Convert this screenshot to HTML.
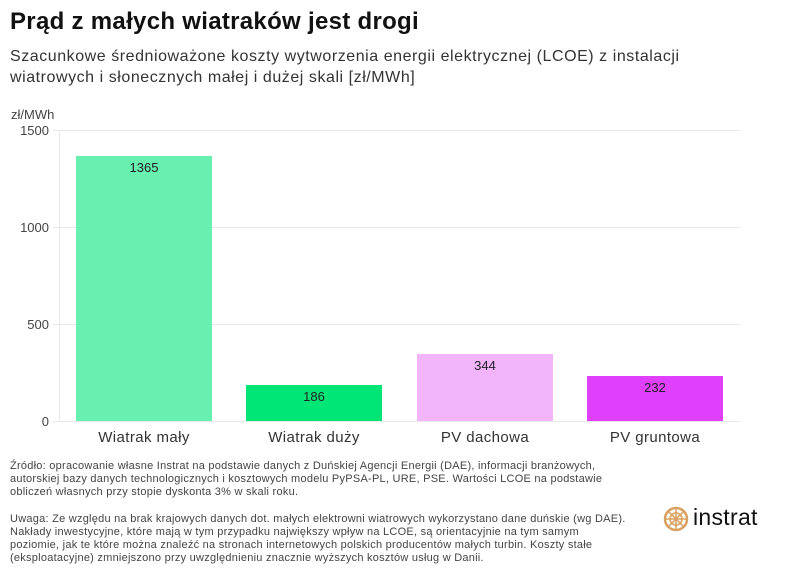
<!DOCTYPE html>
<html><head><meta charset="utf-8"><style>
body{margin:0;width:796px;height:575px;background:#fff;font-family:"Liberation Sans",sans-serif;color:#222;position:relative;overflow:hidden}
.t{position:absolute;white-space:nowrap}
</style></head><body>
<div class="t" style="left:10px;top:8px;font-size:24px;font-weight:bold;color:#111;letter-spacing:0.3px">Prąd z małych wiatraków jest drogi</div>
<div class="t" style="left:10px;top:46px;font-size:16px;line-height:21px;color:#333;letter-spacing:0.55px">Szacunkowe średnioważone koszty wytworzenia energii elektrycznej (LCOE) z instalacji<br>wiatrowych i słonecznych małej i dużej skali [zł/MWh]</div>
<svg width="796" height="460" style="position:absolute;left:0;top:0" font-family="Liberation Sans,sans-serif">
<text x="11" y="119" font-size="13" fill="#444">zł/MWh</text>
<g stroke="#e8e8e8" stroke-width="1">
<line x1="59" y1="130.5" x2="740" y2="130.5"/><line x1="59" y1="227.5" x2="740" y2="227.5"/><line x1="59" y1="324.5" x2="740" y2="324.5"/><line x1="59" y1="421.5" x2="740" y2="421.5"/>
<line x1="59.5" y1="130" x2="59.5" y2="421"/>
<line x1="53" y1="130.5" x2="59" y2="130.5"/><line x1="53" y1="227.5" x2="59" y2="227.5"/><line x1="53" y1="324.5" x2="59" y2="324.5"/><line x1="53" y1="421.5" x2="59" y2="421.5"/>
</g>
<g font-size="13" fill="#444" text-anchor="end">
<text x="49" y="135">1500</text><text x="49" y="232">1000</text><text x="49" y="329">500</text><text x="49" y="426">0</text>
</g>
<rect x="76" y="156" width="136" height="265" fill="#68f0b0"/>
<rect x="246" y="385" width="136" height="36" fill="#00e676"/>
<rect x="417" y="354" width="136" height="67" fill="#f2b4fa"/>
<rect x="587" y="376" width="136" height="45" fill="#e040fb"/>
<g font-size="13" fill="#222" text-anchor="middle">
<text x="144" y="172">1365</text><text x="314" y="401">186</text><text x="485" y="370">344</text><text x="655" y="392">232</text>
</g>
<g font-size="15" fill="#333" text-anchor="middle" letter-spacing="0.4">
<text x="144" y="442">Wiatrak mały</text><text x="314" y="442">Wiatrak duży</text><text x="485" y="442">PV dachowa</text><text x="655" y="442">PV gruntowa</text>
</g>
</svg>
<div class="t" style="left:10px;top:460px;font-size:11px;line-height:13px;color:#444;letter-spacing:0.25px">Źródło: opracowanie własne Instrat na podstawie danych z Duńskiej Agencji Energii (DAE), informacji branżowych,<br>autorskiej bazy danych technologicznych i kosztowych modelu PyPSA-PL, URE, PSE. Wartości LCOE na podstawie<br>obliczeń własnych przy stopie dyskonta 3% w skali roku.</div>
<div class="t" style="left:10px;top:513px;font-size:11px;line-height:13px;color:#444;letter-spacing:0.25px">Uwaga: Ze względu na brak krajowych danych dot. małych elektrowni wiatrowych wykorzystano dane duńskie (wg DAE).<br>Nakłady inwestycyjne, które mają w tym przypadku największy wpływ na LCOE, są orientacyjnie na tym samym<br>poziomie, jak te które można znaleźć na stronach internetowych polskich producentów małych turbin. Koszty stałe<br>(eksploatacyjne) zmniejszono przy uwzględnieniu znacznie wyższych kosztów usług w Danii.</div>
<svg width="26" height="26" style="position:absolute;left:663px;top:506px" viewBox="0 0 26 26">
<circle cx="13" cy="13" r="11" fill="none" stroke="#d9a060" stroke-width="2.5"/>
<circle cx="13" cy="13" r="6" fill="none" stroke="#e0b27a" stroke-width="2"/>
<g stroke="#d9a060" stroke-width="1.5"><line x1="13" y1="1" x2="13" y2="25"/><line x1="1" y1="13" x2="25" y2="13"/><line x1="4.5" y1="4.5" x2="21.5" y2="21.5"/><line x1="21.5" y1="4.5" x2="4.5" y2="21.5"/></g>
</svg>
<div class="t" style="left:693px;top:504px;font-size:23px;color:#111;letter-spacing:0.3px">instrat</div>
</body></html>
